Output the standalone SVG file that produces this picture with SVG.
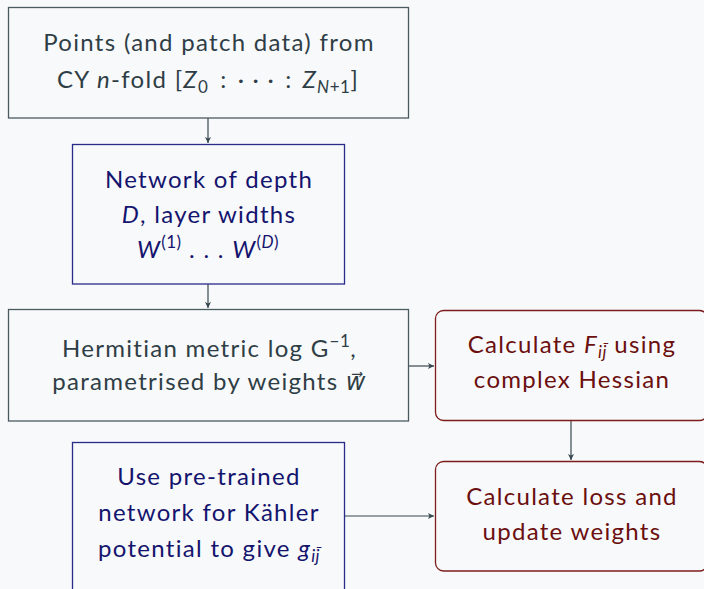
<svg xmlns="http://www.w3.org/2000/svg" width="704" height="589" viewBox="0 0 704 589">
<defs>
<style>
text{font-family:"Lato","Open Sans","DejaVu Sans",sans-serif;font-size:24px;letter-spacing:1.3px;text-anchor:middle}
.gray{fill:none;stroke:#4a5a62;stroke-width:1.3}
.navy{fill:none;stroke:#2a2a8a;stroke-width:1.3}
.red{fill:none;stroke:#7d1c1c;stroke-width:1.3}
.tg{fill:#2f3e46}
.tn{fill:#14146e}
.tr{fill:#6b0f0f}
.i{font-style:italic}
.s{font-size:17px;letter-spacing:0.5px}
.conn{fill:none;stroke:#37474f;stroke-width:1.2}
</style>
<marker id="ah" markerWidth="8" markerHeight="8" refX="6" refY="3" orient="auto" markerUnits="userSpaceOnUse">
<path d="M0,0 L6,3 L0,6 L1.5,3 z" fill="#37474f"/>
</marker>
</defs>
<rect width="704" height="589" fill="#f8f9fa"/>
<g id="connectors">
<line class="conn" x1="208" y1="118" x2="208" y2="143" marker-end="url(#ah)"/>
<line class="conn" x1="208" y1="284" x2="208" y2="308" marker-end="url(#ah)"/>
<line class="conn" x1="409" y1="366" x2="434" y2="366" marker-end="url(#ah)"/>
<line class="conn" x1="571" y1="421" x2="571" y2="460" marker-end="url(#ah)"/>
<line class="conn" x1="344" y1="516" x2="434" y2="516" marker-end="url(#ah)"/>
</g>
<g id="points">
<rect class="gray" x="8.5" y="7.5" width="400" height="110.5"/>
<text class="tg" x="209" y="51">Points (and patch data) from</text>
<text class="tg" x="208" y="88">CY <tspan class="i">n</tspan>-fold [<tspan class="i">Z</tspan><tspan class="s" dy="5">0</tspan><tspan dy="-5" dx="12">:</tspan><tspan dx="10">· · ·</tspan><tspan dx="10">:</tspan><tspan class="i" dx="10">Z</tspan><tspan class="s i" dy="5">N</tspan><tspan class="s">+1</tspan><tspan dy="-5">]</tspan></text>
</g>
<g id="network">
<rect class="navy" x="72.5" y="144.5" width="272" height="139.5"/>
<text class="tn" x="209" y="188">Network of depth</text>
<text class="tn" x="209" y="223"><tspan class="i">D</tspan>, layer widths</text>
<text class="tn" x="208" y="258"><tspan class="i">W</tspan><tspan class="s" dy="-10">(1)</tspan><tspan dy="10"> . . . </tspan><tspan class="i">W</tspan><tspan class="s" dy="-10">(<tspan class="i">D</tspan>)</tspan></text>
</g>
<g id="metric">
<rect class="gray" x="8.5" y="309.5" width="400" height="111.5"/>
<text class="tg" x="209.5" y="357">Hermitian metric log G<tspan class="s" dy="-10">−1</tspan><tspan dy="10">,</tspan></text>
<text class="tg" x="209.5" y="390">parametrised by weights <tspan class="i">w⃗</tspan></text>
</g>
<g id="calcF">
<rect class="red" x="435.5" y="310.5" width="272" height="110" rx="8"/>
<text class="tr" x="572" y="353">Calculate <tspan class="i">F</tspan><tspan class="s i" dy="5">ij̄</tspan><tspan dy="-5"> using</tspan></text>
<text class="tr" x="572" y="388">complex Hessian</text>
</g>
<g id="loss">
<rect class="red" x="435.5" y="461.5" width="272" height="109.5" rx="8"/>
<text class="tr" x="572" y="505">Calculate loss and</text>
<text class="tr" x="572" y="540">update weights</text>
</g>
<g id="pretrained">
<rect class="navy" x="72.5" y="442.5" width="272" height="160"/>
<text class="tn" x="209" y="485">Use pre-trained</text>
<text class="tn" x="209" y="521">network for Kähler</text>
<text class="tn" x="209" y="557">potential to give <tspan class="i">g</tspan><tspan class="s i" dy="5">ij̄</tspan></text>
</g>
</svg>
